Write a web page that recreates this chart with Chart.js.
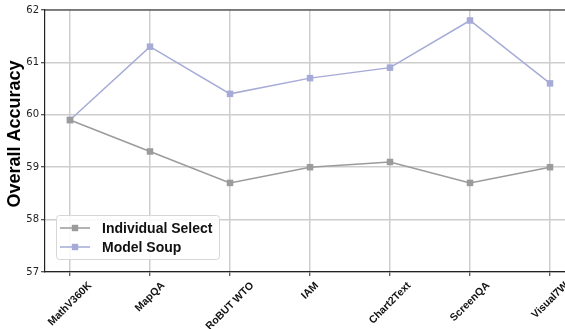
<!DOCTYPE html>
<html>
<head>
<meta charset="utf-8">
<script src="https://cdn.jsdelivr.net/npm/chart.js@4/dist/chart.umd.min.js"></script>
<style>
  html, body { margin: 0; padding: 0; background: #fff; overflow: hidden; }
  #wrap { position: relative; width: 580px; height: 329px; }
</style>
</head>
<body>
<div id="wrap"><canvas id="c" width="580" height="329"></canvas></div>
<script>
const categories = ['MathV360K', 'MapQA', 'RoBUT WTO', 'IAM', 'Chart2Text', 'ScreenQA', 'Visual7W'];
const individualSelect = [59.9, 59.3, 58.7, 59.0, 59.1, 58.7, 59.0];
const modelSoup = [59.9, 61.3, 60.4, 60.7, 60.9, 61.8, 60.6];
const yTicks = [57, 58, 59, 60, 61, 62];
const yTitle = 'Overall Accuracy';

const seriesNames = ['Individual Select', 'Model Soup'];
const seriesColors = ['#9b9b9b', '#a5abd6'];
const AXIS = '#222222';
const GRID = '#cdcdcd';

function toPoints(vals) {
  return vals.map((v, i) => ({ x: i, y: v }));
}

function makeDataset(name, vals, color) {
  return {
    label: name,
    data: toPoints(vals),
    borderColor: color,
    backgroundColor: color,
    borderWidth: 1.5,
    pointStyle: 'rect',
    pointRadius: 4.6,
    pointBorderWidth: 0,
    pointBackgroundColor: color,
    tension: 0
  };
}

// Frame, rotated category labels, y title and legend box
const decorations = {
  id: 'decorations',
  afterDraw(chart) {
    const ctx = chart.ctx;
    const ca = chart.chartArea;
    const xs = chart.scales.x;

    ctx.save();
    // top and right spines
    ctx.strokeStyle = AXIS;
    ctx.lineWidth = 1.2;
    ctx.beginPath();
    ctx.moveTo(ca.left, ca.top);
    ctx.lineTo(ca.right, ca.top);
    ctx.lineTo(ca.right, ca.bottom);
    ctx.stroke();

    // category labels, rotated 45° and centred under each tick
    const fs = 10.5;
    ctx.font = 'bold ' + fs + 'px "Liberation Sans", Arial, sans-serif';
    ctx.fillStyle = '#111';
    ctx.textAlign = 'center';
    ctx.textBaseline = 'middle';
    const s = Math.SQRT1_2;
    categories.forEach((name, i) => {
      const px = xs.getPixelForValue(i);
      const L = ctx.measureText(name).width;
      const h = fs * 1.05;
      const bboxH = (L + h) * s;
      const cy = ca.bottom + 8 + bboxH / 2;
      ctx.save();
      ctx.translate(px, cy);
      ctx.rotate(-Math.PI / 4);
      ctx.fillText(name, 0, 0);
      ctx.restore();
    });

    // y-axis title
    ctx.save();
    ctx.font = 'bold 18px "Liberation Sans", Arial, sans-serif';
    ctx.fillStyle = '#000';
    ctx.textAlign = 'center';
    ctx.textBaseline = 'middle';
    ctx.translate(15, (ca.top + ca.bottom) / 2 - 7);
    ctx.rotate(-Math.PI / 2);
    ctx.fillText(yTitle, 0, 0);
    ctx.restore();

    // legend
    const bx = ca.left + 11, by = ca.bottom - 57, bw = 163, bh = 44;
    ctx.beginPath();
    ctx.roundRect(bx + 0.5, by + 0.5, bw, bh, 3);
    ctx.fillStyle = 'rgba(255,255,255,0.85)';
    ctx.fill();
    ctx.strokeStyle = '#d6d6d6';
    ctx.lineWidth = 1;
    ctx.stroke();

    ctx.font = 'bold 14px "Liberation Sans", Arial, sans-serif';
    ctx.textAlign = 'left';
    ctx.textBaseline = 'middle';
    chart.data.datasets.forEach((ds, k) => {
      const ry = by + 13 + k * 19;
      ctx.strokeStyle = ds.borderColor;
      ctx.lineWidth = 1.5;
      ctx.beginPath();
      ctx.moveTo(bx + 4, ry);
      ctx.lineTo(bx + 34, ry);
      ctx.stroke();
      ctx.fillStyle = ds.borderColor;
      ctx.fillRect(bx + 19 - 3.2, ry - 3.2, 6.4, 6.4);
      ctx.fillStyle = '#111';
      ctx.fillText(ds.label, bx + 46, ry + 1);
    });
    ctx.restore();
  }
};

new Chart(document.getElementById('c'), {
  type: 'line',
  data: {
    datasets: [
      makeDataset(seriesNames[0], individualSelect, seriesColors[0]),
      makeDataset(seriesNames[1], modelSoup, seriesColors[1])
    ]
  },
  options: {
    responsive: false,
    animation: false,
    devicePixelRatio: 1,
    layout: { padding: { left: 0, right: 5, top: 10, bottom: 0 } },
    plugins: {
      legend: { display: false },
      tooltip: { enabled: false }
    },
    scales: {
      x: {
        type: 'linear',
        min: -0.3125,
        max: 6.3125,
        afterBuildTicks(scale) {
          scale.ticks = categories.map((_, i) => ({ value: i }));
        },
        afterFit(scale) { scale.height = 57; },
        ticks: { display: false },
        grid: {
          color: GRID,
          lineWidth: 1.5,
          drawTicks: true,
          tickLength: 4,
          tickColor: AXIS,
          tickWidth: 1
        },
        border: { color: AXIS, width: 1.2 }
      },
      y: {
        min: 57,
        max: 62,
        afterBuildTicks(scale) {
          scale.ticks = yTicks.map(v => ({ value: v }));
        },
        afterFit(scale) { scale.width = 45; },
        ticks: {
          padding: 2,
          color: '#222',
          font: { family: '"DejaVu Sans", sans-serif', size: 10 },
          callback: v => String(v)
        },
        grid: {
          color: GRID,
          lineWidth: 1.5,
          drawTicks: true,
          tickLength: 4,
          tickColor: AXIS,
          tickWidth: 1
        },
        border: { color: AXIS, width: 1.2 }
      }
    }
  },
  plugins: [decorations]
});
</script>
</body>
</html>
